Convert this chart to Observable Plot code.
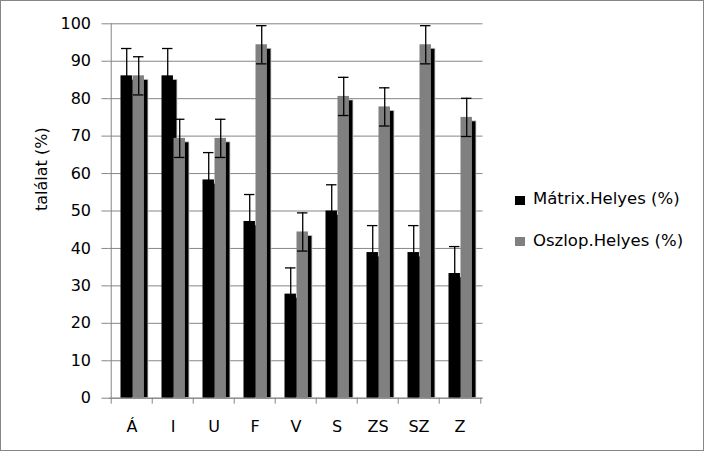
<!DOCTYPE html>
<html>
<head>
<meta charset="utf-8">
<script src="https://cdn.jsdelivr.net/npm/d3@7"></script>
<script src="https://cdn.jsdelivr.net/npm/@observablehq/plot@0.6"></script>
<style>
  html, body { margin: 0; padding: 0; background: #fff; }
  #wrap { position: relative; width: 704px; height: 451px; overflow: hidden; background: #fff; font-family: "DejaVu Sans", sans-serif; }
  #border { position: absolute; left: 0; top: 0; width: 704px; height: 451px; box-sizing: border-box; border: 1px solid #868686; pointer-events: none; }
  .leg { position: absolute; font-size: 16.5px; line-height: 20px; color: #000; white-space: nowrap; }
  .sw { position: absolute; width: 10px; height: 9px; }
</style>
</head>
<body>
<div id="wrap">
  <div id="chart"></div>
  <div class="sw" style="left:515px; top:196px; background:#000;"></div>
  <div class="leg" id="leg1" style="left:533px; top:189px;"></div>
  <div class="sw" style="left:515px; top:237px; background:#808080;"></div>
  <div class="leg" id="leg2" style="left:533px; top:231px;"></div>
  <div id="border"></div>
</div>
<script>
const categories = ["Á", "I", "U", "F", "V", "S", "ZS", "SZ", "Z"];
const seriesNames = ["Mátrix.Helyes (%)", "Oszlop.Helyes (%)"];
const matrixValues = [86.1, 86.1, 58.3, 47.2, 27.8, 50.0, 38.9, 38.9, 33.3];
const oszlopValues = [86.1, 69.4, 69.4, 94.4, 44.4, 80.6, 77.8, 94.4, 75.0];
const matrixErr = [7.3, 7.3, 7.3, 7.2, 7.0, 7.0, 7.2, 7.2, 7.2];
const oszlopErr = [5.1, 5.1, 5.1, 5.1, 5.1, 5.1, 5.1, 5.1, 5.1];
const yTicks = [0, 10, 20, 30, 40, 50, 60, 70, 80, 90, 100];
const yLabel = "találat (%)";

document.getElementById("leg1").textContent = seriesNames[0];
document.getElementById("leg2").textContent = seriesNames[1];

const W = 704, H = 451;
const mL = 108.5, mR = 221.5, mT = 23.3, mB = 53.3;
const bw = (W - mL - mR) / categories.length;
const grid = "#868686";

const mRows = categories.map((c, i) => ({c, v: matrixValues[i], e: matrixErr[i]}));
const oRows = categories.map((c, i) => ({c, v: oszlopValues[i], e: oszlopErr[i]}));

const chart = Plot.plot({
  width: W, height: H,
  marginLeft: mL, marginRight: mR, marginTop: mT, marginBottom: mB,
  style: {fontFamily: "DejaVu Sans, sans-serif", fontSize: "16px", color: "#000", background: "transparent"},
  x: {type: "band", domain: categories, padding: 0, axis: null, label: null},
  y: {domain: [0, 100], axis: null, label: null},
  marks: [
    Plot.ruleY(yTicks, {stroke: grid, strokeWidth: 1}),
    // bars: shadow of black, black, shadow of grey, grey
    Plot.barY(mRows, {x: "c", y: "v", fill: "#000", stroke: "#c8c8c8", strokeWidth: 0.8, insetLeft: 13.5, insetRight: bw - 25.5, insetTop: 4}),
    Plot.barY(mRows, {x: "c", y: "v", fill: "#000", insetLeft: 9.5, insetRight: bw - 21.5}),
    Plot.barY(oRows, {x: "c", y: "v", fill: "#000", stroke: "#c8c8c8", strokeWidth: 0.8, insetLeft: 25.5, insetRight: bw - 37.5, insetTop: 4}),
    Plot.barY(oRows, {x: "c", y: "v", fill: "#808080", insetLeft: 21.5, insetRight: bw - 33.5}),
    // error bars
    Plot.ruleX(mRows, {x: "c", y1: d => d.v - d.e, y2: d => d.v + d.e, dx: 15.5 - bw / 2, stroke: "#000", strokeWidth: 1.3}),
    Plot.tickY(mRows, {x: "c", y: d => d.v + d.e, insetLeft: 10, insetRight: bw - 21, stroke: "#000", strokeWidth: 1.3}),
    Plot.tickY(mRows, {x: "c", y: d => d.v - d.e, insetLeft: 10, insetRight: bw - 21, stroke: "#000", strokeWidth: 1.3}),
    Plot.ruleX(oRows, {x: "c", y1: d => d.v - d.e, y2: d => d.v + d.e, dx: 27.5 - bw / 2, stroke: "#000", strokeWidth: 1.3}),
    Plot.tickY(oRows, {x: "c", y: d => d.v + d.e, insetLeft: 22, insetRight: bw - 33, stroke: "#000", strokeWidth: 1.3}),
    Plot.tickY(oRows, {x: "c", y: d => d.v - d.e, insetLeft: 22, insetRight: bw - 33, stroke: "#000", strokeWidth: 1.3}),
    // axes lines
    Plot.ruleY([0], {stroke: grid, strokeWidth: 1}),
    Plot.ruleX([categories[0]], {x: d => d, dx: -bw / 2, y1: 0, y2: 100, stroke: grid, strokeWidth: 1}),
    Plot.ruleX(categories, {x: d => d, dx: -bw / 2, y1: 0, y2: 0, insetBottom: -6, stroke: grid, strokeWidth: 1}),
    Plot.ruleX([categories[categories.length - 1]], {x: d => d, dx: bw / 2, y1: 0, y2: 0, insetBottom: -6, stroke: grid, strokeWidth: 1}),
    Plot.axisY({ticks: yTicks, tickSize: 7, tickPadding: 11, stroke: grid, fill: "#000", fontSize: 16, label: null}),
    Plot.axisX({tickSize: 0, tickPadding: 22, fill: "#000", fontSize: 16, label: null}),
    Plot.text([yLabel], {text: d => d, frameAnchor: "left", rotate: -90, dx: -67, fontSize: 16, fill: "#000"})
  ]
});
document.getElementById("chart").appendChild(chart);
</script>
</body>
</html>
